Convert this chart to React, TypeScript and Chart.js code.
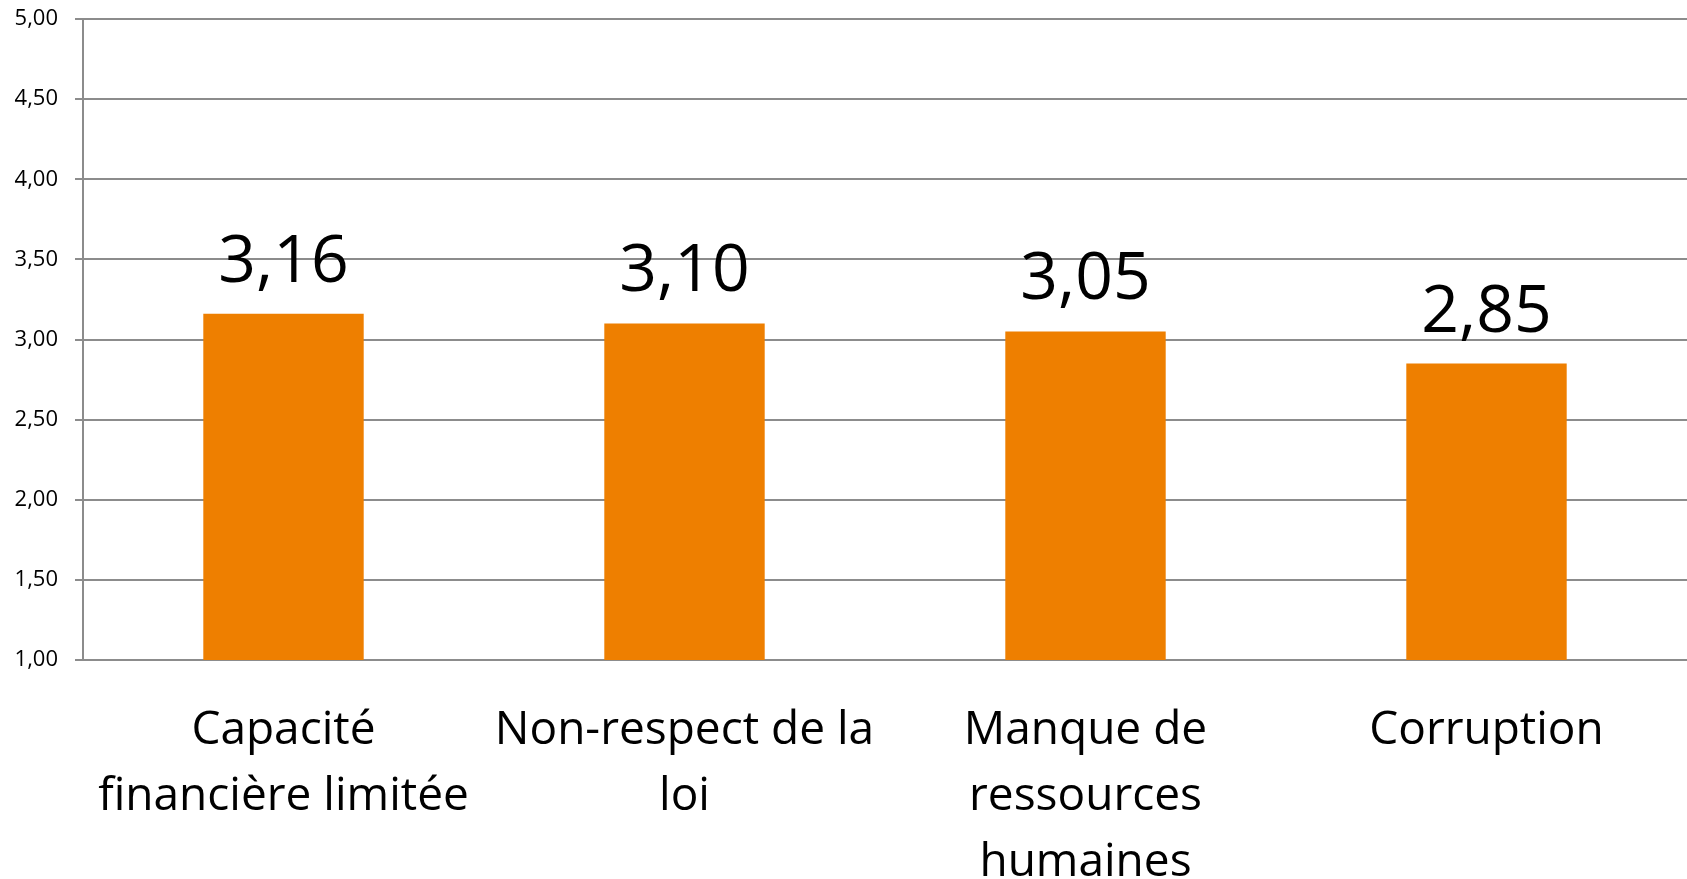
import React, { useEffect, useRef } from "react";
import { Chart, registerables } from "chart.js";

Chart.register(...registerables);

const categories: string[][] = [
  ["Capacité", "financière limitée"],
  ["Non-respect de la", "loi"],
  ["Manque de", "ressources", "humaines"],
  ["Corruption"],
];
const values: number[] = [3.16, 3.1, 3.05, 2.85];
const yMin = 1;
const yMax = 5;
const yStep = 0.5;

const BAR_COLOR = "#EE7F00";
const GRID_COLOR = "#8C8C8C";
const FONT = "'Open Sans', sans-serif";

const fmt = (v: number) => v.toFixed(2).replace(".", ",");

const valueLabels = {
  id: "valueLabels",
  afterDatasetsDraw(chart: any) {
    const ctx = chart.ctx;
    const meta = chart.getDatasetMeta(0);
    ctx.save();
    ctx.font = `66px ${FONT}`;
    ctx.fillStyle = "#000";
    ctx.textAlign = "center";
    ctx.textBaseline = "alphabetic";
    meta.data.forEach((bar: any, i: number) => {
      const v = chart.data.datasets[0].data[i] as number;
      ctx.fillText(fmt(v), bar.x, bar.y - 32);
    });
    ctx.restore();
  },
};

export default function App() {
  const ref = useRef<HTMLCanvasElement | null>(null);
  useEffect(() => {
    document.body.style.margin = "0";
    const canvas = ref.current!;
    const chart = new Chart(canvas, {
      type: "bar",
      data: {
        labels: categories,
        datasets: [
          {
            data: values,
            backgroundColor: BAR_COLOR,
            borderWidth: 0,
            categoryPercentage: 1,
            barPercentage: 0.4,
          },
        ],
      },
      options: {
        animation: false,
        responsive: false,
        maintainAspectRatio: false,
        layout: { padding: { top: 19, right: 0, left: 0, bottom: 0 } },
        plugins: {
          legend: { display: false },
          tooltip: { enabled: false },
        },
        scales: {
          x: {
            grid: { display: false, drawTicks: false },
            border: { display: true, color: GRID_COLOR, width: 2 },
            ticks: {
              color: "#000",
              font: { family: FONT, size: 46, lineHeight: 1.43 },
              padding: 38,
              maxRotation: 0,
              autoSkip: false,
            },
            afterFit(scale: any) {
              scale.height = 219;
              scale.paddingLeft = 0;
              scale.paddingRight = 0;
            },
          },
          y: {
            min: yMin,
            max: yMax,
            grid: {
              color: GRID_COLOR,
              lineWidth: 2,
              drawTicks: true,
              tickLength: 8,
            },
            border: { display: true, color: GRID_COLOR, width: 2 },
            ticks: {
              stepSize: yStep,
              color: "#000",
              font: { family: FONT, size: 22 },
              padding: 17,
              callback: (v: any) => fmt(Number(v)),
            },
            afterFit(scale: any) {
              scale.width = 83;
              scale.paddingTop = 0;
              scale.paddingBottom = 0;
            },
          },
        },
      },
      plugins: [valueLabels],
    });
    return () => chart.destroy();
  }, []);
  return (
    <canvas
      ref={ref}
      width={1687}
      height={879}
      style={{ display: "block", width: 1687, height: 879 }}
    />
  );
}
